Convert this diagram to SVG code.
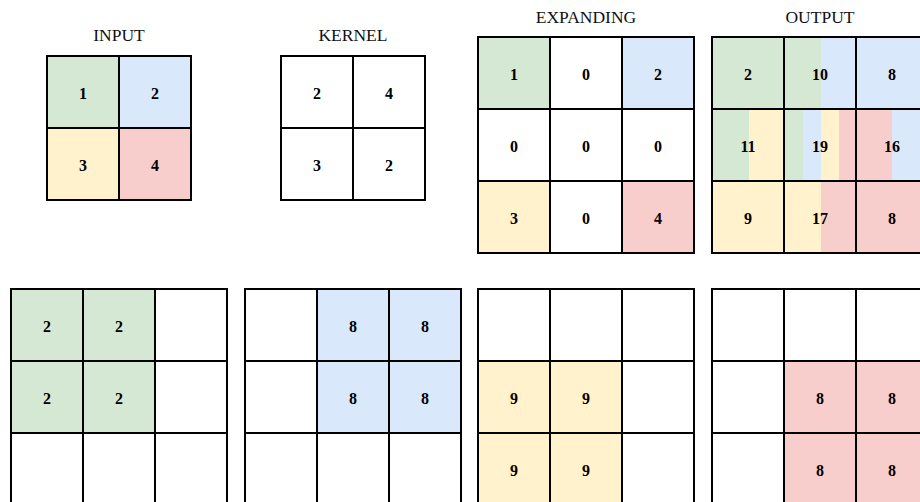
<svg xmlns="http://www.w3.org/2000/svg" width="920" height="502" viewBox="0 0 920 502">
  <style>
    .c { stroke: #000; stroke-width: 2; fill: #fff; }
    .o { stroke: #000; stroke-width: 2; fill: none; }
    .g { fill: #d5e8d4; }
    .b { fill: #dae8fc; }
    .y { fill: #fff2cc; }
    .r { fill: #f8cecc; }
    .n { font-family: "Liberation Serif", "Times New Roman", serif; font-size: 16px; font-weight: bold; text-anchor: middle; fill: #000; }
    .t { font-family: "Liberation Serif", "Times New Roman", serif; font-size: 17.5px; text-anchor: middle; fill: #111; }
  </style>

  <!-- titles -->
  <text class="t" x="119" y="40.5">INPUT</text>
  <text class="t" x="353" y="40.5">KERNEL</text>
  <text class="t" x="586" y="23">EXPANDING</text>
  <text class="t" x="820" y="23">OUTPUT</text>

  <!-- 2x2 input -->
  <g id="input">
    <rect class="c g" x="47" y="56" width="72" height="72"/>
    <rect class="c b" x="119" y="56" width="72" height="72"/>
    <rect class="c y" x="47" y="128" width="72" height="72"/>
    <rect class="c r" x="119" y="128" width="72" height="72"/>
    <text class="n" x="83" y="98.5">1</text>
    <text class="n" x="155" y="98.5">2</text>
    <text class="n" x="83" y="170.5">3</text>
    <text class="n" x="155" y="170.5">4</text>
  </g>

  <!-- 2x2 kernel -->
  <g id="kernel">
    <rect class="c" x="281" y="56" width="72" height="72"/>
    <rect class="c" x="353" y="56" width="72" height="72"/>
    <rect class="c" x="281" y="128" width="72" height="72"/>
    <rect class="c" x="353" y="128" width="72" height="72"/>
    <text class="n" x="317" y="98.5">2</text>
    <text class="n" x="389" y="98.5">4</text>
    <text class="n" x="317" y="170.5">3</text>
    <text class="n" x="389" y="170.5">2</text>
  </g>

  <!-- 3x3 zero-inserted input -->
  <g id="expanding">
    <rect class="c g" x="478" y="37" width="72" height="72"/>
    <rect class="c" x="550" y="37" width="72" height="72"/>
    <rect class="c b" x="622" y="37" width="72" height="72"/>
    <rect class="c" x="478" y="109" width="72" height="72"/>
    <rect class="c" x="550" y="109" width="72" height="72"/>
    <rect class="c" x="622" y="109" width="72" height="72"/>
    <rect class="c y" x="478" y="181" width="72" height="72"/>
    <rect class="c" x="550" y="181" width="72" height="72"/>
    <rect class="c r" x="622" y="181" width="72" height="72"/>
    <text class="n" x="514" y="79.5">1</text>
    <text class="n" x="586" y="79.5">0</text>
    <text class="n" x="658" y="79.5">2</text>
    <text class="n" x="514" y="151.5">0</text>
    <text class="n" x="586" y="151.5">0</text>
    <text class="n" x="658" y="151.5">0</text>
    <text class="n" x="514" y="223.5">3</text>
    <text class="n" x="586" y="223.5">0</text>
    <text class="n" x="658" y="223.5">4</text>
  </g>

  <!-- 3x3 output with contribution stripes -->
  <g id="output">
    <!-- row 1 -->
    <rect class="g" x="712" y="37" width="72" height="72"/>
    <rect class="g" x="784" y="37" width="37" height="72"/>
    <rect class="b" x="821" y="37" width="35" height="72"/>
    <rect class="b" x="856" y="37" width="72" height="72"/>
    <!-- row 2 -->
    <rect class="g" x="712" y="109" width="37" height="72"/>
    <rect class="y" x="749" y="109" width="35" height="72"/>
    <rect class="g" x="784" y="109" width="19" height="72"/>
    <rect class="b" x="803" y="109" width="18" height="72"/>
    <rect class="y" x="821" y="109" width="18" height="72"/>
    <rect class="r" x="839" y="109" width="17" height="72"/>
    <rect class="r" x="856" y="109" width="36" height="72"/>
    <rect class="b" x="892" y="109" width="36" height="72"/>
    <!-- row 3 -->
    <rect class="y" x="712" y="181" width="72" height="72"/>
    <rect class="y" x="784" y="181" width="37" height="72"/>
    <rect class="r" x="821" y="181" width="35" height="72"/>
    <rect class="r" x="856" y="181" width="72" height="72"/>
    <!-- grid -->
    <rect class="o" x="712" y="37" width="72" height="72"/>
    <rect class="o" x="784" y="37" width="72" height="72"/>
    <rect class="o" x="856" y="37" width="72" height="72"/>
    <rect class="o" x="712" y="109" width="72" height="72"/>
    <rect class="o" x="784" y="109" width="72" height="72"/>
    <rect class="o" x="856" y="109" width="72" height="72"/>
    <rect class="o" x="712" y="181" width="72" height="72"/>
    <rect class="o" x="784" y="181" width="72" height="72"/>
    <rect class="o" x="856" y="181" width="72" height="72"/>
    <text class="n" x="748" y="79.5">2</text>
    <text class="n" x="820" y="79.5">10</text>
    <text class="n" x="892" y="79.5">8</text>
    <text class="n" x="748" y="151.5">11</text>
    <text class="n" x="820" y="151.5">19</text>
    <text class="n" x="892" y="151.5">16</text>
    <text class="n" x="748" y="223.5">9</text>
    <text class="n" x="820" y="223.5">17</text>
    <text class="n" x="892" y="223.5">8</text>
  </g>

  <!-- partial products, one grid per input value -->
  <g id="partial-1">
    <rect class="c g" x="11" y="289" width="72" height="72"/>
    <rect class="c g" x="83" y="289" width="72" height="72"/>
    <rect class="c" x="155" y="289" width="72" height="72"/>
    <rect class="c g" x="11" y="361" width="72" height="72"/>
    <rect class="c g" x="83" y="361" width="72" height="72"/>
    <rect class="c" x="155" y="361" width="72" height="72"/>
    <rect class="c" x="11" y="433" width="72" height="72"/>
    <rect class="c" x="83" y="433" width="72" height="72"/>
    <rect class="c" x="155" y="433" width="72" height="72"/>
    <text class="n" x="47" y="331.5">2</text>
    <text class="n" x="119" y="331.5">2</text>
    <text class="n" x="47" y="403.5">2</text>
    <text class="n" x="119" y="403.5">2</text>
  </g>

  <g id="partial-2">
    <rect class="c" x="245" y="289" width="72" height="72"/>
    <rect class="c b" x="317" y="289" width="72" height="72"/>
    <rect class="c b" x="389" y="289" width="72" height="72"/>
    <rect class="c" x="245" y="361" width="72" height="72"/>
    <rect class="c b" x="317" y="361" width="72" height="72"/>
    <rect class="c b" x="389" y="361" width="72" height="72"/>
    <rect class="c" x="245" y="433" width="72" height="72"/>
    <rect class="c" x="317" y="433" width="72" height="72"/>
    <rect class="c" x="389" y="433" width="72" height="72"/>
    <text class="n" x="353" y="331.5">8</text>
    <text class="n" x="425" y="331.5">8</text>
    <text class="n" x="353" y="403.5">8</text>
    <text class="n" x="425" y="403.5">8</text>
  </g>

  <g id="partial-3">
    <rect class="c" x="478" y="289" width="72" height="72"/>
    <rect class="c" x="550" y="289" width="72" height="72"/>
    <rect class="c" x="622" y="289" width="72" height="72"/>
    <rect class="c y" x="478" y="361" width="72" height="72"/>
    <rect class="c y" x="550" y="361" width="72" height="72"/>
    <rect class="c" x="622" y="361" width="72" height="72"/>
    <rect class="c y" x="478" y="433" width="72" height="72"/>
    <rect class="c y" x="550" y="433" width="72" height="72"/>
    <rect class="c" x="622" y="433" width="72" height="72"/>
    <text class="n" x="514" y="403.5">9</text>
    <text class="n" x="586" y="403.5">9</text>
    <text class="n" x="514" y="475.5">9</text>
    <text class="n" x="586" y="475.5">9</text>
  </g>

  <g id="partial-4">
    <rect class="c" x="712" y="289" width="72" height="72"/>
    <rect class="c" x="784" y="289" width="72" height="72"/>
    <rect class="c" x="856" y="289" width="72" height="72"/>
    <rect class="c" x="712" y="361" width="72" height="72"/>
    <rect class="c r" x="784" y="361" width="72" height="72"/>
    <rect class="c r" x="856" y="361" width="72" height="72"/>
    <rect class="c" x="712" y="433" width="72" height="72"/>
    <rect class="c r" x="784" y="433" width="72" height="72"/>
    <rect class="c r" x="856" y="433" width="72" height="72"/>
    <text class="n" x="820" y="403.5">8</text>
    <text class="n" x="892" y="403.5">8</text>
    <text class="n" x="820" y="475.5">8</text>
    <text class="n" x="892" y="475.5">8</text>
  </g>

  <g id="connectors"/>
</svg>
